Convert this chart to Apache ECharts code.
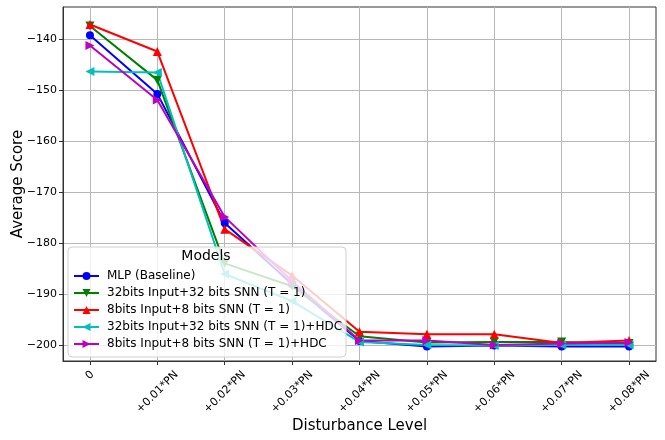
<!DOCTYPE html>
<html>
<head>
<meta charset="utf-8">
<script src="https://cdn.jsdelivr.net/npm/echarts@6/dist/echarts.min.js"></script>
<style>
  html, body { margin: 0; padding: 0; background: #fff; }
  #chart { width: 665px; height: 440px; }
</style>
</head>
<body>
<div id="chart"></div>
<script>
// 扰动等级（横轴）
var categories = ['0', '+0.01*PN', '+0.02*PN', '+0.03*PN', '+0.04*PN', '+0.05*PN', '+0.06*PN', '+0.07*PN', '+0.08*PN'];
var yTicks = [-200, -190, -180, -170, -160, -150, -140];

// 各模型的平均得分
var mlp      = [-139.2, -150.7, -176.0, -188.0, -199.1, -200.2, -200.0, -200.2, -200.2];
var snn32    = [-137.4, -148.0, -183.9, -188.4, -198.2, -199.4, -199.3, -199.3, -199.6];
var snn8     = [-137.1, -142.4, -177.2, -186.3, -197.3, -197.8, -197.8, -199.5, -199.0];
var snn32Hdc = [-146.3, -146.5, -186.0, -191.3, -199.3, -199.9, -200.0, -199.9, -199.9];
var snn8Hdc  = [-141.2, -151.9, -174.8, -187.4, -199.0, -199.0, -199.9, -199.6, -199.4];

var names = [
    'MLP (Baseline)',
    '32bits Input+32 bits SNN (T = 1)',
    '8bits Input+8 bits SNN (T = 1)',
    '32bits Input+32 bits SNN (T = 1)+HDC',
    '8bits Input+8 bits SNN (T = 1)+HDC'
];

var font = 'DejaVu Sans';
var tickFontSize = 11;
var chart = echarts.init(document.getElementById('chart'));

// 把数组转成 [x, y] 点
function toPoints(values) {
    return values.map(function (v, i) { return [i, v]; });
}

function makeSeries(name, values, color, symbol, rotate) {
    return {
        name: name,
        type: 'line',
        data: toPoints(values),
        clip: false,
        symbol: symbol,
        symbolSize: symbol === 'circle' ? 8 : 9,
        symbolRotate: rotate,
        lineStyle: { color: color, width: 2 },
        itemStyle: { color: color },
        emphasis: { disabled: true },
        animation: false
    };
}

// 旋转 45° 的刻度标签：让每个标签的外框在刻度下方居中（类似 matplotlib 的 ha='center'）
var measureCtx = document.createElement('canvas').getContext('2d');
measureCtx.font = tickFontSize + 'px "' + font + '"';
var xRich = {};
categories.forEach(function (text, i) {
    var w = measureCtx.measureText(text).width;
    var s = (w + tickFontSize) / 2;
    xRich['l' + i] = {
        fontFamily: font,
        fontSize: tickFontSize,
        color: '#000',
        padding: [s, s, 0, 0]
    };
});

var option = {
    backgroundColor: '#fff',
    animation: false,
    textStyle: { fontFamily: font },
    title: {
        text: 'Models',
        left: 206,
        top: 249,
        textAlign: 'center',
        padding: 0,
        textStyle: { fontFamily: font, fontSize: 14, fontWeight: 'normal', color: '#000' },
        z: 10
    },
    legend: {
        orient: 'vertical',
        left: 68,
        top: 247,
        padding: [23, 4, 7, 5],
        itemWidth: 25,
        itemHeight: 10,
        itemGap: 5,
        backgroundColor: 'rgba(255,255,255,0.8)',
        borderColor: '#d0d0d0',
        borderWidth: 1,
        borderRadius: 4,
        selectedMode: false,
        textStyle: { fontFamily: font, fontSize: 12, color: '#000', padding: [0, 0, 0, 3] },
        data: names
    },
    grid: {
        left: 63,
        right: 9,
        top: 7,
        bottom: 79,
        show: true,
        borderColor: '#333',
        borderWidth: 1,
        containLabel: false,
        outerBoundsMode: 'none'
    },
    xAxis: {
        type: 'value',
        min: -0.4,
        max: 8.4,
        name: 'Disturbance Level',
        nameLocation: 'middle',
        nameGap: 58,
        nameMoveOverlap: false,
        nameTextStyle: { fontFamily: font, fontSize: 15, color: '#000' },
        axisLine: { show: true, onZero: false, lineStyle: { color: '#333', width: 1 } },
        axisTick: {
            show: true, length: 4, inside: false,
            customValues: [0, 1, 2, 3, 4, 5, 6, 7, 8],
            lineStyle: { color: '#333' }
        },
        axisLabel: {
            customValues: [0, 1, 2, 3, 4, 5, 6, 7, 8],
            rotate: 45,
            margin: 8,
            align: 'center',
            verticalAlign: 'middle',
            fontFamily: font,
            fontSize: tickFontSize,
            color: '#000',
            formatter: function (v) {
                var i = Math.round(v);
                return '{l' + i + '|' + categories[i] + '}';
            },
            rich: xRich
        },
        splitLine: { show: true, lineStyle: { color: '#b8b8b8', width: 1 } }
    },
    yAxis: {
        type: 'value',
        min: -203.04,
        max: -133.67,
        name: 'Average Score',
        nameLocation: 'middle',
        nameGap: 37,
        nameMoveOverlap: false,
        nameTextStyle: { fontFamily: font, fontSize: 15, color: '#000' },
        axisLine: { show: true, onZero: false, lineStyle: { color: '#333', width: 1 } },
        axisTick: {
            show: true, length: 4, inside: false,
            customValues: yTicks,
            lineStyle: { color: '#333' }
        },
        axisLabel: {
            customValues: yTicks,
            margin: 6,
            fontFamily: font,
            fontSize: tickFontSize,
            color: '#000',
            formatter: function (v) { return String(Math.round(v)).replace('-', '\u2212'); }
        },
        splitLine: { show: true, lineStyle: { color: '#b8b8b8', width: 1 } }
    },
    series: [
        makeSeries(names[0], mlp, '#0000ff', 'circle', 0),
        makeSeries(names[1], snn32, '#008000', 'triangle', 180),
        makeSeries(names[2], snn8, '#ff0000', 'triangle', 0),
        makeSeries(names[3], snn32Hdc, '#00bfbf', 'triangle', 90),
        makeSeries(names[4], snn8Hdc, '#bf00bf', 'triangle', -90)
    ]
};

chart.setOption(option);
</script>
</body>
</html>
